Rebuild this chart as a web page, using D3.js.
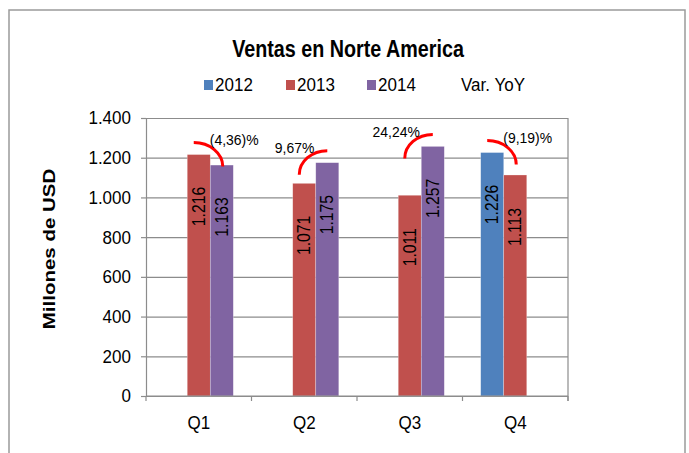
<!DOCTYPE html>
<html>
<head>
<meta charset="utf-8">
<script src="https://cdn.jsdelivr.net/npm/d3@7"></script>
<style>
  body { margin: 0; background: #fff; }
  svg text { font-family: "Liberation Sans", Arial, sans-serif; fill: #000; }
</style>
</head>
<body>
<div id="chart"></div>
<script>
// datos
var quarters = ["Q1", "Q2", "Q3", "Q4"];
var years = ["2012", "2013", "2014"];
var sales2012 = [null, null, null, 1226];
var sales2013 = [1216, 1071, 1011, 1113];
var sales2014 = [1163, 1175, 1257, null];
var yTicks = [0, 200, 400, 600, 800, 1000, 1200, 1400];
// variacion YoY: de que serie a que serie, y su etiqueta
var varFrom = ["2013", "2013", "2013", "2012"];
var varTo = ["2014", "2014", "2014", "2013"];
var varLabels = ["(4,36)%", "9,67%", "24,24%", "(9,19)%"];
var legendLabels = ["2012", "2013", "2014", "Var. YoY"];

var colors = {"2012": "#4F81BD", "2013": "#C0504D", "2014": "#8064A2"};

// dimensions
var width = 689, height = 453;
var plot = {left: 146, right: 568, top: 118, bottom: 396};
// texto un poco condensado (como en el original)
var sx = 0.92;

// tabla por serie
var series = {"2012": sales2012, "2013": sales2013, "2014": sales2014};
var bars = [];
quarters.forEach(function(q, i) {
  years.forEach(function(y) {
    if (series[y][i] != null) bars.push({q: q, year: y, value: series[y][i]});
  });
});

// formato espanol 1.400
var fmt = d3.formatLocale({decimal: ",", thousands: ".", grouping: [3], currency: ["", ""]}).format(",");

var svg = d3.select("#chart").append("svg")
  .attr("width", width)
  .attr("height", height);

// borde exterior
svg.append("rect")
  .attr("x", 9).attr("y", 10)
  .attr("width", 676).attr("height", 470)
  .attr("fill", "none")
  .attr("stroke", "#9a9a9a")
  .attr("stroke-width", 1.5);

// scales
var x0 = d3.scaleBand().domain(quarters).range([plot.left, plot.right]).padding(0);
var x1 = d3.scaleBand().domain(years).range([0, x0.bandwidth()]).paddingInner(0).paddingOuter(0.79);
var yScale = d3.scaleLinear().domain([0, 1400]).range([plot.bottom, plot.top]);

// gridlines
svg.append("g")
  .attr("transform", "translate(" + plot.left + ",0)")
  .call(d3.axisLeft(yScale).tickValues(yTicks).tickSize(-(plot.right - plot.left)).tickFormat(""))
  .call(function(g) { g.select(".domain").remove(); })
  .selectAll("line")
  .attr("stroke", "#8c8c8c")
  .attr("stroke-width", 1.2);

// borde derecho del area
svg.append("line")
  .attr("x1", plot.right).attr("x2", plot.right)
  .attr("y1", plot.top).attr("y2", plot.bottom + 5)
  .attr("stroke", "#8c8c8c")
  .attr("stroke-width", 1.2);

// bars
svg.append("g").selectAll("rect")
  .data(bars)
  .join("rect")
  .attr("x", d => x0(d.q) + x1(d.year))
  .attr("y", d => yScale(d.value))
  .attr("width", x1.bandwidth())
  .attr("height", d => yScale(0) - yScale(d.value))
  .attr("fill", d => colors[d.year])
  .attr("stroke", "rgba(255,255,255,0.45)")
  .attr("stroke-width", 0.6);

// etiquetas de valor (rotadas)
svg.append("g").selectAll("text")
  .data(bars)
  .join("text")
  .attr("transform", d => "translate(" + (x0(d.q) + x1(d.year) + x1.bandwidth() / 2) + "," + (yScale(d.value) + 52) + ") rotate(-90) scale(0.9,1)")
  .attr("dy", "0.35em")
  .attr("text-anchor", "middle")
  .style("font-size", "17.5px")
  .text(d => fmt(d.value));

// Y axis
var yAxis = svg.append("g")
  .attr("transform", "translate(" + plot.left + ",0)")
  .call(d3.axisLeft(yScale).tickValues(yTicks).tickSize(5).tickPadding(10).tickFormat(fmt));
yAxis.select(".domain").attr("stroke", "#8c8c8c").attr("stroke-width", 1.2);
yAxis.selectAll(".tick line").attr("stroke", "#8c8c8c").attr("stroke-width", 1.2);
yAxis.selectAll(".tick text")
  .attr("x", -15 / sx)
  .attr("transform", "scale(" + sx + ",1)")
  .style("font-size", "18.5px")
  .style("font-family", "'Liberation Sans', Arial, sans-serif")
  .attr("fill", "#000");

// X axis
var xAxis = svg.append("g")
  .attr("transform", "translate(0," + plot.bottom + ")")
  .call(d3.axisBottom(x0).tickSize(0).tickPadding(20));
xAxis.select(".domain").remove();
xAxis.selectAll(".tick text")
  .attr("transform", "scale(" + sx + ",1)")
  .style("font-size", "18.5px")
  .style("font-family", "'Liberation Sans', Arial, sans-serif")
  .attr("fill", "#000");
svg.append("line")
  .attr("x1", plot.left).attr("x2", plot.right)
  .attr("y1", plot.bottom).attr("y2", plot.bottom)
  .attr("stroke", "#8c8c8c").attr("stroke-width", 1.2);
svg.append("g").selectAll("line")
  .data(quarters.map(q => x0(q)).concat([plot.right]))
  .join("line")
  .attr("x1", d => d).attr("x2", d => d)
  .attr("y1", plot.bottom).attr("y2", plot.bottom + 5)
  .attr("stroke", "#8c8c8c").attr("stroke-width", 1.2);

// arcos rojos de variacion + etiquetas
quarters.forEach(function(q, i) {
  var a = series[varFrom[i]][i], b = series[varTo[i]][i];
  var cxA = x0(q) + x1(varFrom[i]) + x1.bandwidth() / 2;
  var cxB = x0(q) + x1(varTo[i]) + x1.bandwidth() / 2;
  var hiY = yScale(Math.max(a, b)) - 12;
  var L, R;
  if (b < a) {
    L = [cxA - 5, hiY]; R = [cxB + 1, hiY + 24];
  } else {
    L = [cxA - 5, hiY + 24]; R = [cxB, hiY];
  }
  var rx = R[0] - L[0], ry = Math.abs(R[1] - L[1]);
  svg.append("path")
    .attr("d", "M" + L[0] + "," + L[1] + " A" + rx + "," + ry + " 0 0 1 " + R[0] + "," + R[1])
    .attr("fill", "none")
    .attr("stroke", "#FF0000")
    .attr("stroke-width", 3);
  svg.append("text")
    .attr("transform", "translate(" + (b < a ? R[0] - 13 : R[0] - 13) + "," + (hiY - 3) + ") scale(0.93,1)")
    .attr("dy", "0.35em")
    .attr("text-anchor", b < a ? "start" : "end")
    .style("font-size", "15px")
    .text(varLabels[i]);
});

// Titulo
svg.append("text")
  .attr("transform", "translate(348,57) scale(0.84,1)")
  .attr("text-anchor", "middle")
  .style("font-size", "23.5px")
  .style("font-weight", "bold")
  .text("Ventas en Norte America");

// Y label
svg.append("text")
  .attr("transform", "translate(55,249) rotate(-90) scale(1.22,1)")
  .attr("text-anchor", "middle")
  .style("font-size", "16.8px")
  .style("font-weight", "bold")
  .text("Millones de USD");

// Legend
var legendX = [215, 297, 378, 461];
var legend = svg.append("g").selectAll("g")
  .data(legendLabels)
  .join("g")
  .attr("transform", (d, i) => "translate(" + legendX[i] + ",91)");
legend.filter(d => colors[d])
  .append("rect")
  .attr("x", -11).attr("y", -11)
  .attr("width", 9).attr("height", 10)
  .attr("fill", d => colors[d]);
legend.append("text")
  .attr("transform", "scale(" + sx + ",1)")
  .style("font-size", "18.5px")
  .text(d => d);
</script>
</body>
</html>
